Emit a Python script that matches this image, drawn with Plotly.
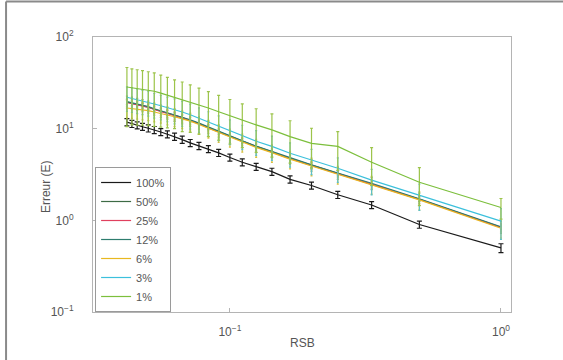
import plotly.graph_objects as go

# RSB values (x axis)
rsb = [0.0417, 0.0435, 0.0455, 0.0476, 0.05, 0.0526, 0.0556, 0.0588, 0.0625, 0.0667,
       0.0714, 0.0769, 0.0833, 0.0909, 0.1, 0.1111, 0.125, 0.1429, 0.1667, 0.2,
       0.25, 0.3333, 0.5, 1.0]

labels = ["100%", "50%", "25%", "12%", "6%", "3%", "1%"]

err_100 = [11.8, 11.3, 10.9, 10.5, 10.1, 9.7, 9.2, 8.7, 8.2, 7.6, 7.0, 6.5, 6.0, 5.45,
           4.85, 4.3, 3.85, 3.4, 2.8, 2.4, 1.9, 1.47, 0.90, 0.50]
sd_100 = [1.05, 1.0, 0.97, 0.93, 0.9, 0.86, 0.82, 0.77, 0.73, 0.68, 0.62, 0.58, 0.53, 0.48,
          0.43, 0.38, 0.34, 0.30, 0.25, 0.21, 0.17, 0.13, 0.08, 0.055]

err_50 = [19.5, 19.0, 18.4, 17.8, 17.2, 16.3, 15.6, 14.8, 14.0, 13.2, 12.4, 11.4, 10.3, 9.3,
          8.3, 7.3, 6.4, 5.6, 4.75, 4.0, 3.25, 2.52, 1.70, 0.84]
sd_50 = [1.2, 1.15, 1.1, 1.05, 1.0, 0.98, 0.94, 0.9, 0.85, 0.8, 0.75, 0.7, 0.62, 0.56,
         0.5, 0.44, 0.38, 0.34, 0.29, 0.24, 0.2, 0.15, 0.1, 0.05]

err_25 = [19.3, 18.8, 18.2, 17.7, 17.1, 16.2, 15.5, 14.7, 13.9, 13.1, 12.3, 11.3, 10.2, 9.2,
          8.2, 7.25, 6.35, 5.55, 4.7, 3.97, 3.22, 2.5, 1.69, 0.835]
sd_25 = [1.9, 1.9, 1.8, 1.8, 1.7, 1.6, 1.55, 1.5, 1.4, 1.3, 1.25, 1.15, 1.0, 0.92,
         0.82, 0.72, 0.63, 0.55, 0.47, 0.4, 0.32, 0.25, 0.17, 0.085]

err_12 = [19.7, 19.2, 18.6, 18.0, 17.4, 16.5, 15.7, 14.9, 14.1, 13.3, 12.5, 11.5, 10.4, 9.35,
          8.35, 7.35, 6.45, 5.65, 4.8, 4.03, 3.28, 2.54, 1.72, 0.85]
sd_12 = [3.0, 2.9, 2.8, 2.7, 2.6, 2.5, 2.4, 2.2, 2.1, 2.0, 1.9, 1.7, 1.6, 1.4,
         1.25, 1.1, 0.97, 0.85, 0.72, 0.6, 0.49, 0.38, 0.26, 0.13]

err_6 = [16.8, 16.6, 16.3, 16.0, 15.7, 15.2, 14.7, 14.1, 13.5, 12.8, 12.1, 11.1, 10.1, 9.1,
         8.1, 7.15, 6.25, 5.48, 4.65, 3.92, 3.18, 2.47, 1.67, 0.82]
sd_6 = [3.7, 3.65, 3.6, 3.5, 3.45, 3.35, 3.2, 3.1, 3.0, 2.8, 2.7, 2.45, 2.2, 2.0,
        1.8, 1.6, 1.4, 1.2, 1.0, 0.86, 0.7, 0.54, 0.37, 0.18]

err_3 = [22.0, 21.4, 20.8, 20.2, 19.6, 18.6, 17.8, 17.0, 16.2, 15.2, 14.2, 13.0, 11.8, 10.6,
         9.6, 8.4, 7.3, 6.4, 5.4, 4.55, 3.7, 2.75, 1.88, 0.98]
sd_3 = [6.6, 6.4, 6.2, 6.0, 5.9, 5.6, 5.3, 5.1, 4.9, 4.6, 4.3, 3.9, 3.5, 3.2,
        2.9, 2.5, 2.2, 1.9, 1.6, 1.4, 1.1, 0.85, 0.6, 0.36]

err_1 = [28.5, 28.0, 27.4, 26.9, 26.3, 25.6, 24.4, 23.2, 22.0, 20.8, 19.6, 18.2, 16.8, 15.3,
         13.8, 12.4, 11.0, 9.7, 8.2, 6.9, 6.4, 4.3, 2.6, 1.38]
sd_1 = [18.0, 17.0, 16.5, 16.0, 15.5, 15.0, 14.0, 13.0, 12.0, 11.5, 10.5, 9.5, 8.6, 7.8,
        7.0, 6.2, 5.5, 4.8, 4.0, 3.2, 2.9, 1.9, 1.15, 0.35]

colors = ["#1a1a1a", "#3d6b45", "#e0405e", "#2e7d6e", "#e8b820", "#3cc0dc", "#7cbf3c"]
bar_colors = ["#1a1a1a", "#5a8048", "#c8a840", "#6f9a5a", "#d8c040", "#5cc0c8", "#9cc44a"]
cap_widths = [2.5, 1, 1, 1, 1, 1, 1.5]

series = [err_100, err_50, err_25, err_12, err_6, err_3, err_1]
sds = [sd_100, sd_50, sd_25, sd_12, sd_6, sd_3, sd_1]

ytick_vals = [0.1, 1, 10, 100]
ytick_text = ["10<sup>\u22121</sup>", "10<sup>0</sup>", "10<sup>1</sup>", "10<sup>2</sup>"]
xtick_vals = [0.1, 1]
xtick_text = ["10<sup>\u22121</sup>", "10<sup>0</sup>"]

fig = go.Figure()
for name, ys, sd, c, bc, cw in zip(labels, series, sds, colors, bar_colors, cap_widths):
    fig.add_trace(go.Scatter(
        x=rsb, y=ys, name=name, mode="lines",
        line=dict(color=c, width=1.2),
        error_y=dict(type="data", array=sd, visible=True, color=bc, thickness=1.2, width=cw),
    ))

font_family = "Liberation Sans, Arial, sans-serif"
axis_common = dict(
    type="log", showgrid=False, zeroline=False, showline=True, mirror=True,
    linecolor="#b4b4b4", linewidth=1, ticks="inside", ticklen=4, tickcolor="#b4b4b4",
    tickfont=dict(family=font_family, size=12, color="#555555"),
)

fig.update_layout(
    width=563, height=360,
    margin=dict(l=93, r=52, t=37, b=48),
    paper_bgcolor="white", plot_bgcolor="white",
    font=dict(family=font_family, color="#555555"),
    xaxis=dict(range=[-1.505, 0.037], tickvals=xtick_vals, ticktext=xtick_text,
               ticklabelstandoff=9, **axis_common),
    yaxis=dict(range=[-1, 2], tickvals=ytick_vals, ticktext=ytick_text,
               ticklabelstandoff=16, **axis_common),
    showlegend=True,
    legend=dict(x=0.005, y=0.0, xanchor="left", yanchor="bottom",
                bgcolor="white", bordercolor="#9a9a9a", borderwidth=1,
                font=dict(family=font_family, size=11, color="#555555"),
                tracegroupgap=0, itemwidth=30),
    annotations=[
        dict(text="Erreur (E)", x=-0.112, y=0.455, xref="paper", yref="paper",
             xanchor="center", yanchor="middle",
             textangle=-90, showarrow=False,
             font=dict(family=font_family, size=12, color="#555555")),
        dict(text="RSB", x=0.5, y=-0.113, xref="paper", yref="paper",
             xanchor="center", yanchor="middle",
             showarrow=False, font=dict(family=font_family, size=12, color="#555555")),
    ],
    shapes=[
        dict(type="line", xref="paper", yref="paper", x0=-0.208, x1=1.2, y0=1.129, y1=1.129,
             line=dict(color="#8a8a8a", width=2)),
        dict(type="line", xref="paper", yref="paper", x0=-0.208, x1=-0.208, y0=1.129, y1=-0.18,
             line=dict(color="#8a8a8a", width=2)),
    ],
)

fig.write_html(
    "out.html",
    config={"displayModeBar": False},
    post_script=("document.body.style.margin='0';document.body.style.overflow='hidden';"
                 "document.documentElement.style.overflow='hidden';"
                 "var d=document.getElementsByClassName('plotly-graph-div')[0];"
                 "d.style.outline='none';d.style.border='none';"),
)
